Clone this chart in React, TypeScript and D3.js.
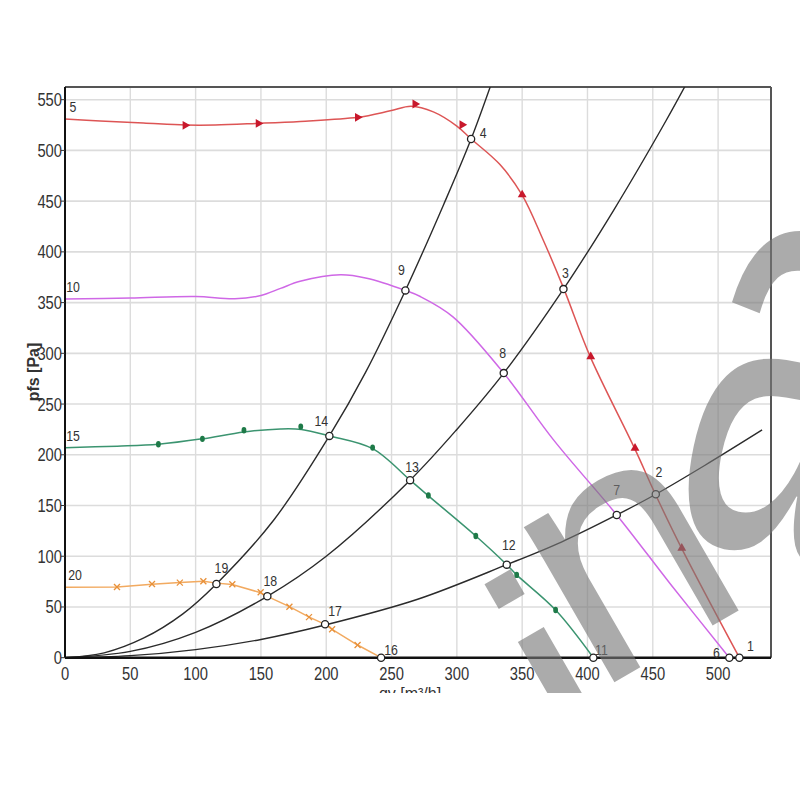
import React from 'react';
import * as d3 from 'd3';

// ---- axis ticks ----
const xTicks = [0, 50, 100, 150, 200, 250, 300, 350, 400, 450, 500];
const yTicks = [0, 50, 100, 150, 200, 250, 300, 350, 400, 450, 500, 550];

// ---- fan curves ----
const redQ = [0, 27, 60, 92, 115, 147, 180, 224, 249, 265, 282, 300, 311, 333, 350, 366, 382, 402, 436, 452, 472, 516.3];
const redP = [531, 529, 527, 525, 525, 526.6, 528.6, 532.6, 539, 543.5, 538, 524, 511.2, 486, 456, 412, 363.3, 297, 206.5, 161.1, 108, 0];
const redMarkQ = [92, 148, 224, 268, 304, 350, 402.5, 436.4, 472.2];
const redMarkP = [524.7, 526.6, 532.6, 545.7, 525.3, 456.3, 296.8, 206.5, 107.9];

const magQ = [0, 50, 100, 130, 150, 165, 180, 211, 231, 260.6, 272, 297, 335.9, 374, 422.4, 463, 508.6];
const magP = [353.5, 354.5, 356, 353.8, 357, 364, 371, 377.4, 374, 362, 356, 336, 280.5, 214.7, 140.7, 73.4, 0];

const grnQ = [0, 40, 71.5, 105, 137, 165, 181, 202.4, 235.5, 264.2, 278, 314.5, 338.2, 345.8, 375.6, 404.5];
const grnP = [207, 208.5, 210.4, 215.7, 222.5, 225.5, 225, 218.6, 206, 175, 159.8, 120, 91.7, 81.6, 47, 0];
const grnMarkQ = [71.5, 105.2, 137, 180.5, 235.5, 278.2, 314.5, 345.8, 375.6];
const grnMarkP = [210.4, 215.7, 224.2, 227.8, 207.1, 159.8, 120, 81.6, 47];

const orgQ = [0, 40, 66.6, 88, 106, 116, 128, 149.8, 154.9, 171.8, 187, 199.1, 204.5, 224, 242];
const orgP = [69.5, 69.7, 72.4, 74, 75.3, 73.5, 72.2, 64, 60.5, 50.3, 40, 32.9, 28, 12.5, 0];
const orgMarkQ = [39.8, 66.6, 87.9, 105.9, 128.1, 149.8, 171.8, 186.8, 204.5, 224];
const orgMarkP = [69.7, 72.6, 74, 75.3, 72.4, 64.5, 50.3, 40, 28, 12.5];

// ---- system curves ----
const sysAQ = [0, 30, 60, 90, 115.9, 160, 202.4, 230, 260.6, 290, 310.9, 330];
const sysAP = [0, 4.8, 19.2, 43, 72.7, 136, 218.6, 281, 362, 447, 511.2, 579];
const sysBQ = [0, 50, 100, 154.9, 200, 264.2, 300, 335.9, 381.6, 420, 460, 480];
const sysBP = [0, 6.2, 25, 60.5, 100, 175, 225, 280.5, 363.3, 441, 529, 576];
const sysCQ = [0, 50, 100, 150, 199.1, 270, 338.2, 380, 422.4, 452.3, 490, 533.7];
const sysCP = [0, 2, 8, 18, 32.2, 57.6, 91.7, 114, 140.7, 161.1, 189.7, 224.5];

// ---- operating points ----
const ptIds = ['1', '2', '3', '4', '6', '7', '8', '9', '11', '12', '13', '14', '16', '17', '18', '19'];
const ptQ = [516.3, 452.3, 381.6, 310.9, 508.6, 422.4, 335.9, 260.6, 404.5, 338.2, 264.2, 202.4, 242, 199.1, 154.9, 115.9];
const ptP = [0, 161.1, 363.3, 511.2, 0, 140.7, 280.5, 362, 0, 91.7, 175, 218.6, 0, 32.9, 60.5, 72.7];
const ptDx = [11, 3, 2, 12, -13, 0, -1, -4, 8, 2, 2, -8, 10, 10, 3, 5];
const ptDy = [-12, -22, -16, -6, -5, -25, -20, -20, -8, -20, -13, -15, -8, -13, -15, -16];

// curve start labels
const curveLabels = ['5', '10', '15', '20'];
const curveLabelP = [531, 353.5, 207, 69.5];

// watermark letters
const wmChars = ['i', 'n', 'a'];
const FONT = "'Liberation Sans Narrow', 'Arial Narrow', 'Liberation Sans', Arial, sans-serif";

export default function App() {
  const left = 65, right = 771, top = 87, bottom = 657.7;
  const x = d3.scaleLinear().domain([0, 540.5]).range([left, right]);
  const y = d3.scaleLinear().domain([0, 562.5]).range([bottom, top]);

  const mk = (qs: number[], ps: number[], curve: any = d3.curveCatmullRom.alpha(0.5)) =>
    d3.line<number>().x((_, i) => x(qs[i])).y((_, i) => y(ps[i])).curve(curve)(qs) as string;

  const tri = d3.symbol().type(d3.symbolTriangle).size(34)() as string;

  const wmTransforms = [
    'translate(588,809) rotate(-30)',
    'translate(594,694) rotate(-30)',
    'translate(662,530) rotate(12) scale(0.8,1.5)',
  ];
  const wmSizes = [340, 340, 400];

  return (
    <svg width={800} height={800} style={{ position: 'absolute', left: 0, top: 0, background: '#fff' }}>
      <defs>
        <clipPath id="plotClip">
          <rect x={left} y={top} width={right - left} height={bottom - top} />
        </clipPath>
        <clipPath id="imgClip">
          <rect x={0} y={0} width={800} height={693} />
        </clipPath>
      </defs>
      <g clipPath="url(#imgClip)">
        {/* grid */}
        {xTicks.filter(t => t > 0).map(t => (
          <line key={'gx' + t} x1={x(t)} x2={x(t)} y1={top} y2={bottom} stroke="#dcdcdc" strokeWidth={1.4} />
        ))}
        {yTicks.filter(t => t > 0).map(t => (
          <line key={'gy' + t} x1={left} x2={right} y1={y(t)} y2={y(t)} stroke="#dcdcdc" strokeWidth={1.6} />
        ))}
        {/* frame */}
        <line x1={left} x2={right} y1={top} y2={top} stroke="#555" strokeWidth={2} />
        <line x1={right} x2={right} y1={top} y2={bottom} stroke="#555" strokeWidth={2} />

        {/* system curves */}
        <g clipPath="url(#plotClip)" fill="none" stroke="#2b2b2b" strokeWidth={1.4}>
          <path d={mk(sysAQ, sysAP)} />
          <path d={mk(sysBQ, sysBP)} />
          <path d={mk(sysCQ, sysCP)} />
        </g>

        {/* fan curves */}
        <g fill="none" strokeWidth={1.5}>
          <path d={mk(redQ, redP)} stroke="#dd5555" />
          <path d={mk(magQ, magP)} stroke="#cf68e6" />
          <path d={mk(grnQ, grnP)} stroke="#3b9470" />
          <path d={mk(orgQ, orgP, d3.curveLinear)} stroke="#f2aa60" />
        </g>

        {/* markers */}
        {redMarkQ.map((q, i) => (
          <path key={'rm' + i} d={tri} fill="#c8182c"
            transform={`translate(${x(q)},${y(redMarkP[i])}) rotate(${i < 5 ? 90 : 0})`} />
        ))}
        {grnMarkQ.map((q, i) => (
          <ellipse key={'gm' + i} cx={x(q)} cy={y(grnMarkP[i])} rx={2.4} ry={3.2} fill="#1e7a48" />
        ))}
        {orgMarkQ.map((q, i) => (
          <g key={'om' + i} transform={`translate(${x(q)},${y(orgMarkP[i])})`} stroke="#e8913a" strokeWidth={1.3}>
            <line x1={-3} y1={-3} x2={3} y2={3} />
            <line x1={-3} y1={3} x2={3} y2={-3} />
          </g>
        ))}

        {/* axes */}
        <line x1={left} x2={left} y1={top} y2={bottom} stroke="#111" strokeWidth={2} />
        <line x1={left} x2={right} y1={bottom} y2={bottom} stroke="#111" strokeWidth={2.6} />
        {yTicks.map(t => (
          <g key={'yt' + t}>
            <line x1={left - 4} x2={left} y1={y(t)} y2={y(t)} stroke="#333" strokeWidth={1} />
            <text transform={`translate(${left - 3},${y(t) + 6.5}) scale(0.82,1)`} textAnchor="end"
              fontFamily={FONT} fontSize={18} fill="#333">{t}</text>
          </g>
        ))}
        {xTicks.map(t => (
          <text key={'xt' + t} transform={`translate(${x(t)},680) scale(0.82,1)`} textAnchor="middle"
            fontFamily={FONT} fontSize={18} fill="#333">{t}</text>
        ))}

        {/* operating points */}
        {ptQ.map((q, i) => (
          <g key={'pt' + i}>
            <circle cx={x(q)} cy={y(ptP[i])} r={3.6} fill="#fff" stroke="#222" strokeWidth={1.3} />
            <text transform={`translate(${x(q) + ptDx[i]},${y(ptP[i]) + ptDy[i] + 5}) scale(0.88,1)`} textAnchor="middle"
              fontFamily={FONT} fontSize={14} fill="#333">{ptIds[i]}</text>
          </g>
        ))}
        {curveLabels.map((l, i) => (
          <text key={'cl' + l} transform={`translate(${l === '20' ? 75 : 73},${y(curveLabelP[i]) - 7}) scale(0.88,1)`}
            textAnchor="middle" fontFamily={FONT} fontSize={14} fill="#333">{l}</text>
        ))}

        {/* axis titles */}
        <text transform="translate(39,372) rotate(-90)" textAnchor="middle" fontFamily={FONT}
          fontSize={16} fontWeight="bold" fill="#333">pfs [Pa]</text>
        <text x={410} y={699} textAnchor="middle" fontFamily={FONT} fontSize={16} fill="#333">qv [m³/h]</text>

        {/* watermark */}
        <g fill="#777" fillOpacity={0.62} fontFamily={FONT}>
          {wmChars.map((c, i) => (
            <text key={'wm' + c} fontSize={wmSizes[i]} transform={wmTransforms[i]}>{c}</text>
          ))}
        </g>
      </g>
    </svg>
  );
}
